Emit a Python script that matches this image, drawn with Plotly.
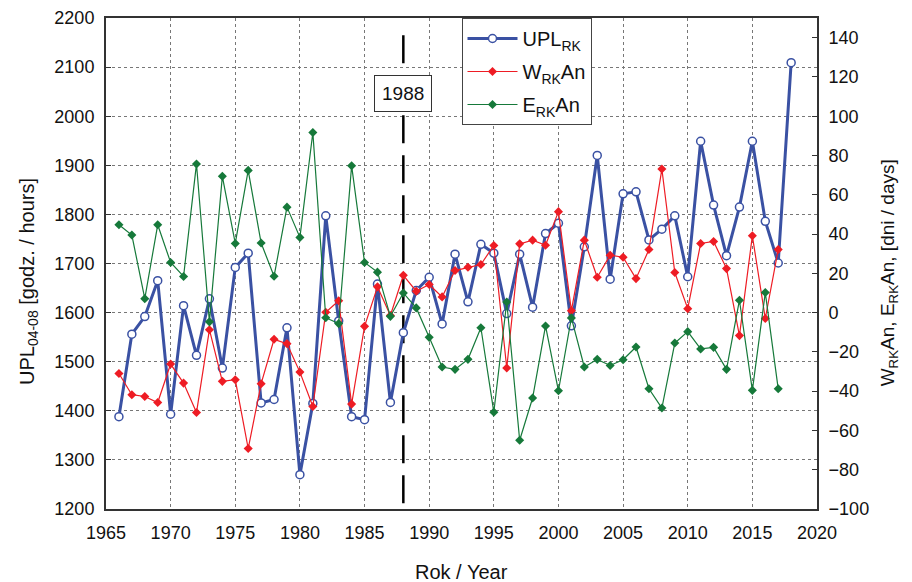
import plotly.graph_objects as go

years_upl = list(range(1966, 2019))
years_an = list(range(1966, 2018))

upl = [1388, 1556, 1592, 1665, 1393, 1614, 1513, 1628, 1487, 1692,
       1721, 1416, 1423, 1569, 1270, 1415, 1797, 1583, 1388, 1382,
       1658, 1417, 1559, 1645, 1672, 1577, 1719, 1622, 1739, 1721,
       1598, 1719, 1611, 1761, 1782, 1573, 1734, 1920, 1668, 1842,
       1846, 1748, 1770, 1797, 1673, 1949, 1819, 1716, 1815, 1949,
       1786, 1701, 2109]

w_an = [-31, -41.8, -42.7, -45.8, -26.2, -35.9, -50.9, -8.7, -35, -34.2,
        -69.2, -36.2, -13.6, -15.8, -30.3, -47.8, 0.2, 6, -46.6, -7,
        13.1, -1.5, 19, 10.9, 14.3, 8, 21.4, 23.1, 24.5, 34.2,
        -28.2, 35, 36.9, 34.3, 51.4, 1, 36.9, 18, 29.2, 28.2,
        17.3, 32.1, 73.1, 20.4, 2, 35.2, 36.2, 22.4, -11.7, 39.1,
        -3, 32.1]

e_an = [44.7, 39.5, 7.1, 44.7, 25.5, 18.4, 75.7, -4.7, 69.4, 35.2,
        72.4, 35.4, 18.5, 53.7, 38.3, 91.7, -2.6, -5.6, 74.8, 25.5,
        20.6, -1.9, 10, 2.4, -12.6, -27.7, -28.9, -23.8, -7.7, -50.7,
        5.4, -65, -43.5, -6.8, -39.8, -2.7, -27.7, -23.8, -26.9, -24,
        -17.5, -38.8, -48.6, -15.5, -9.7, -18.5, -17.7, -28.9, 6.3, -39.6,
        10.2, -38.8]

x_ticks = list(range(1965, 2021, 5))
left_ticks = list(range(1200, 2201, 100))
right_ticks = list(range(-100, 141, 20))
marker_year = 1988

BLUE = "#3a51a3"
RED = "#ee1c24"
GREEN = "#16793a"
FRAME = "#333333"
FONT = "Liberation Sans, Arial, sans-serif"

fig = go.Figure()
fig.add_trace(go.Scatter(
    x=years_upl, y=upl, name="UPL<sub>RK</sub>", mode="lines+markers",
    line=dict(color=BLUE, width=3),
    marker=dict(symbol="circle", size=8, color="white", line=dict(color=BLUE, width=1.5)),
    legendgroup="a", yaxis="y"))
fig.add_trace(go.Scatter(
    x=years_an, y=w_an, name="W<sub>RK</sub>An", mode="lines+markers",
    line=dict(color=RED, width=1.2),
    marker=dict(symbol="diamond", size=7, color=RED),
    legendgroup="b", yaxis="y2"))
fig.add_trace(go.Scatter(
    x=years_an, y=e_an, name="E<sub>RK</sub>An", mode="lines+markers",
    line=dict(color=GREEN, width=1.2),
    marker=dict(symbol="diamond", size=7, color=GREEN),
    legendgroup="c", yaxis="y2"))

fig.add_shape(type="line", xref="x", yref="y", x0=marker_year, x1=marker_year,
              y0=2165, y1=1200, line=dict(color="black", width=2.5, dash="28px,12px"),
              layer="between")

fig.add_annotation(x=marker_year, y=2047, xref="x", yref="y", text="1988",
                   showarrow=False, font=dict(family=FONT, size=19, color="#111"),
                   bordercolor=FRAME, borderwidth=1, borderpad=7, bgcolor="white")

fig.add_annotation(xref="paper", yref="paper", x=0, y=0.4633, xshift=-92,
                   text="UPL<sub>04-08</sub> [godz. / hours]", textangle=-90,
                   showarrow=False, font=dict(family=FONT, size=20, color="#111"))
fig.add_annotation(xref="paper", yref="paper", x=1, y=0.48, xshift=86,
                   text="W<sub>RK</sub>An, E<sub>RK</sub>An, [dni / days]", textangle=-90,
                   showarrow=False, font=dict(family=FONT, size=19, color="#111"))
fig.add_annotation(xref="paper", yref="paper", x=0.5, y=0, yshift=-76,
                   text="Rok / Year", showarrow=False,
                   font=dict(family=FONT, size=20, color="#111"))

grid = dict(showgrid=True, gridcolor="#777777", griddash="dot", gridwidth=1)

fig.update_layout(
    template="none",
    width=912, height=582,
    margin=dict(l=106, r=95, t=18, b=73, autoexpand=False),
    paper_bgcolor="white", plot_bgcolor="white",
    font=dict(family=FONT, size=18, color="#111"),
    xaxis=dict(range=[1965, 2020], tickvals=x_ticks, ticks="", showline=True,
               linecolor=FRAME, linewidth=2, mirror=True, zeroline=False,
               automargin=False, ticklabelstandoff=6, **grid),
    xaxis2=dict(range=[1965, 2020], overlaying="x", side="top", anchor="y",
                dtick=1, tick0=1965, ticks="inside", ticklen=4, tickcolor=FRAME,
                showticklabels=False, showgrid=False, showline=False, zeroline=False,
                automargin=False),
    yaxis=dict(range=[1200, 2200], tickvals=left_ticks, ticks="inside", ticklen=5,
               tickcolor=FRAME, showline=True, linecolor=FRAME, linewidth=2,
               zeroline=False, automargin=False, ticklabelstandoff=6, **grid),
    yaxis2=dict(range=[-100, 150], tickvals=right_ticks, overlaying="y", side="right",
                ticks="inside", ticklen=5, tickcolor=FRAME, showline=True,
                linecolor=FRAME, linewidth=2, showgrid=False, zeroline=False,
                automargin=False, ticklabelstandoff=6),
    legend=dict(x=0.5, y=1, xanchor="left", yanchor="top", bgcolor="white",
                bordercolor="#444", borderwidth=1, font=dict(family=FONT, size=20, color="#111"),
                itemwidth=50, tracegroupgap=4),
    showlegend=True,
)

fig.write_html("out.html", config={"displayModeBar": False},
               post_script="document.body.style.margin='0px';document.body.style.overflow='hidden';")
